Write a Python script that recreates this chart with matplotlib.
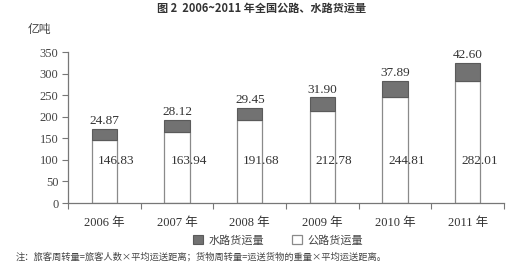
import matplotlib
matplotlib.use("Agg")
import matplotlib.pyplot as plt
import numpy as np

years = ["2006 年", "2007 年", "2008 年", "2009 年", "2010 年", "2011 年"]
road = [146.83, 163.94, 191.68, 212.78, 244.81, 282.01]
water = [24.87, 28.12, 29.45, 31.90, 37.89, 42.60]
yticks = [0, 50, 100, 150, 200, 250, 300, 350]

SERIF = ['Liberation Serif', 'Noto Sans CJK SC']
CJK = ['Noto Sans CJK SC', 'DejaVu Sans']

fig = plt.figure(figsize=(5.24, 2.80), dpi=100)
ax = fig.add_axes([0.130, 0.275, 0.832, 0.539])

x = np.arange(len(years))
w = 0.35
ax.bar(x, road, w, color='white', edgecolor='#8a8a8a', linewidth=0.9, label='公路货运量')
ax.bar(x, water, w, bottom=road, color='#727272', edgecolor='#5a5a5a', linewidth=0.8, label='水路货运量')

for i in range(len(years)):
    ax.text(x[i], road[i] + water[i] + 4, f"{water[i]:.2f}", ha='center', va='bottom',
            fontsize=9.5, family=SERIF, color='#333333')
    ax.text(x[i] + 0.16, 97, f"{road[i]:.2f}", ha='center', va='center',
            fontsize=9.5, family=SERIF, color='#333333')

ax.set_xlim(-0.5, len(years) - 0.5)
ax.set_ylim(0, 350)
ax.set_yticks(yticks)
ax.set_yticklabels([str(v) for v in yticks], family=SERIF, fontsize=9, color='#444444')
ax.set_xticks(np.arange(-0.5, len(years), 1.0))
ax.set_xticklabels([])
ax.set_xticks(x, minor=True)
ax.set_xticklabels(years, minor=True, family=SERIF, fontsize=9, color='#333333')
ax.tick_params(axis='x', which='minor', length=0, pad=10)
ax.tick_params(axis='x', which='major', length=4, color='#777777', direction='out')
ax.tick_params(axis='y', length=4, color='#777777', direction='out', pad=3)
for s in ['top', 'right']:
    ax.spines[s].set_visible(False)
for s in ['left', 'bottom']:
    ax.spines[s].set_color('#777777')
    ax.spines[s].set_linewidth(0.9)

fig.text(0.5, 0.97, "图 2  2006~2011 年全国公路、水路货运量", ha='center', va='center',
         fontsize=8, family=CJK, color='#333333', fontweight='bold')
fig.text(0.053, 0.895, "亿吨", ha='left', va='center', fontsize=8.5, family=CJK, color='#444444')

handles, labels = ax.get_legend_handles_labels()
leg = fig.legend(handles[::-1], labels[::-1], loc='center', bbox_to_anchor=(0.53, 0.142),
                 ncol=2, frameon=False, prop={'family': CJK, 'size': 8}, handlelength=0.9,
                 handleheight=0.9, columnspacing=2.5, handletextpad=0.5)
for t in leg.get_texts():
    t.set_color('#444444')

fig.text(0.03, 0.082, "注：旅客周转量=旅客人数×平均运送距离；货物周转量=运送货物的重量×平均运送距离。",
         ha='left', va='center', fontsize=6.7, family=CJK, color='#444444')

fig.savefig("out.png", dpi=100)
